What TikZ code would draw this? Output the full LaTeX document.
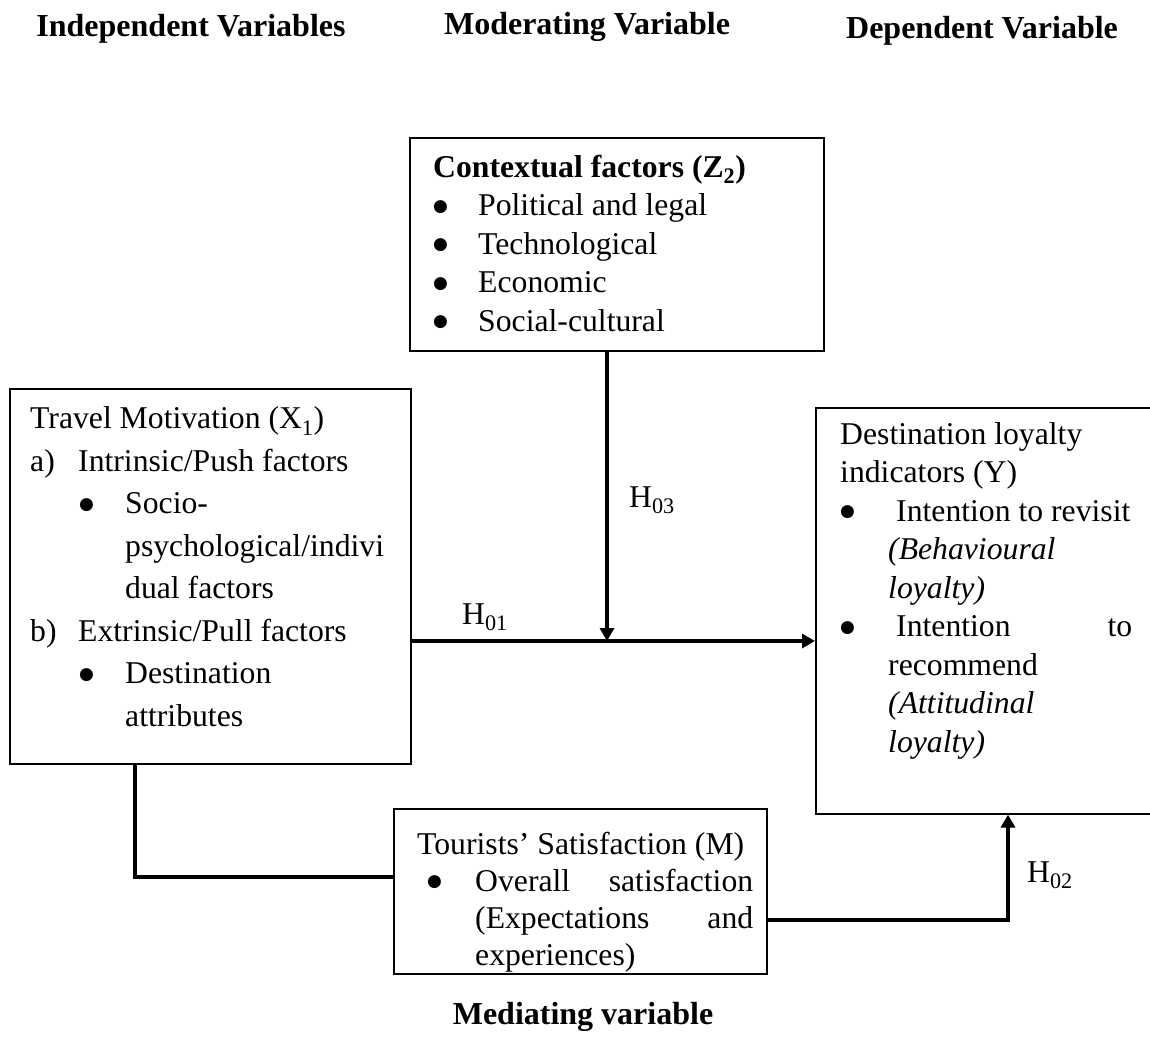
\documentclass[tikz,border=0pt]{standalone}
\usepackage{fontspec}
\setmainfont{Liberation Serif}
\newfontfamily\symfont{DejaVu Sans}
\usetikzlibrary{arrows.meta, calc}

\newcommand{\dotmark}{\raisebox{4.5pt}{\symfont\fontsize{17}{17}\selectfont ●}}
\newcommand{\bul}{\makebox[45pt][l]{\dotmark}}

\tikzset{
  box/.style={draw, line width=1.6pt, anchor=north west, inner sep=0pt},
  conn/.style={line width=4pt},
  tip/.style={-{Triangle[length=13pt,width=14pt]}},
  body/.style={anchor=north west, inner sep=0pt, align=left,
    font=\fontsize{31.7}{38.5}\selectfont},
  head/.style={anchor=base, inner sep=0pt, font=\fontsize{32}{38}\selectfont\bfseries},
  lbl/.style={inner sep=0pt, font=\fontsize{31.7}{38}\selectfont},
}

\begin{document}
\begin{tikzpicture}[x=1pt, y=1pt]
  \useasboundingbox (0,0) rectangle (1150,-1043);
  \clip (0,0) rectangle (1150,-1043);
  % column headings
  \node[head] (hind) at (191,-37) {Independent Variables};
  \node[head] (hmod) at (587,-35) {Moderating Variable};
  \node[head] (hdep) at (982,-39) {Dependent Variable};
  \node[head] (hmed) at (583,-1024) {Mediating variable};
  % boxes
  \node[box, minimum width=414pt, minimum height=213pt] (ctx) at (409,-137) {};
  \node[box, minimum width=401pt, minimum height=375pt] (tm) at (9,-388) {};
  \node[box, minimum width=345pt, minimum height=406pt] (dl) at (815,-407) {};
  \node[box, minimum width=373pt, minimum height=165pt] (ts) at (393,-808) {};
  % box texts
  \node[body] (ctxtxt) at (433,-150) {\strut\textbf{Contextual factors (Z\textsubscript{2})}\\
    \bul Political and legal\\ \bul Technological\\ \bul Economic\\ \bul Social-cultural};
  \node[body, font=\fontsize{31.7}{42.5}\selectfont] (tmtxt) at (30,-399) {\strut Travel Motivation (X\textsubscript{1})\\
    \makebox[48pt][l]{a)}Intrinsic/Push factors\\
    \hspace*{49pt}\makebox[46pt][l]{\dotmark}Socio-\\
    \hspace*{95pt}psychological/indivi\\
    \hspace*{95pt}dual factors\\
    \makebox[48pt][l]{b)}Extrinsic/Pull factors\\
    \hspace*{49pt}\makebox[46pt][l]{\dotmark}Destination\\
    \hspace*{95pt}attributes};
  \node[body] (dltxt) at (840,-417) {\strut Destination loyalty\\ indicators (Y)\\
    \makebox[48pt][l]{\dotmark}\hspace*{8pt}Intention to revisit\\
    \hspace*{48pt}\textit{(Behavioural}\\
    \hspace*{48pt}\textit{loyalty)}\\
    \makebox[48pt][l]{\dotmark}\hspace*{8pt}\makebox[236pt][l]{Intention\hfill to}\\
    \hspace*{48pt}recommend\\
    \hspace*{48pt}\textit{(Attitudinal}\\
    \hspace*{48pt}\textit{loyalty)}};
  \node[body, font=\fontsize{31.7}{37}\selectfont] (tstxt) at (417,-828) {\strut Tourists' Satisfaction (M)\\
    \hspace*{10pt}\makebox[48pt][l]{\dotmark}\makebox[278pt][l]{Overall\hfill satisfaction}\\
    \hspace*{58pt}\makebox[278pt][l]{(Expectations\hfill and}\\
    \hspace*{58pt}experiences)};
  % connectors
  \coordinate (jn) at (607,-641);
  \draw[conn, tip] (jn |- ctx.south) -- (jn);
  \draw[conn, tip] (jn -| tm.east) -- (jn -| dl.west);
  \coordinate (lk) at (135,-877);
  \draw[conn] (lk |- tm.south) -- (lk) -- (lk -| ts.west);
  \coordinate (rk) at (1008,-920);
  \draw[conn, tip] (rk -| ts.east) -- (rk) -- (rk |- dl.south);
  % hypothesis labels
  \node[lbl] (h01) at (485,-617) {H\textsubscript{01}};
  \node[lbl] (h03) at (652,-500) {H\textsubscript{03}};
  \node[lbl] (h02) at (1050,-875) {H\textsubscript{02}};
\end{tikzpicture}
\end{document}
